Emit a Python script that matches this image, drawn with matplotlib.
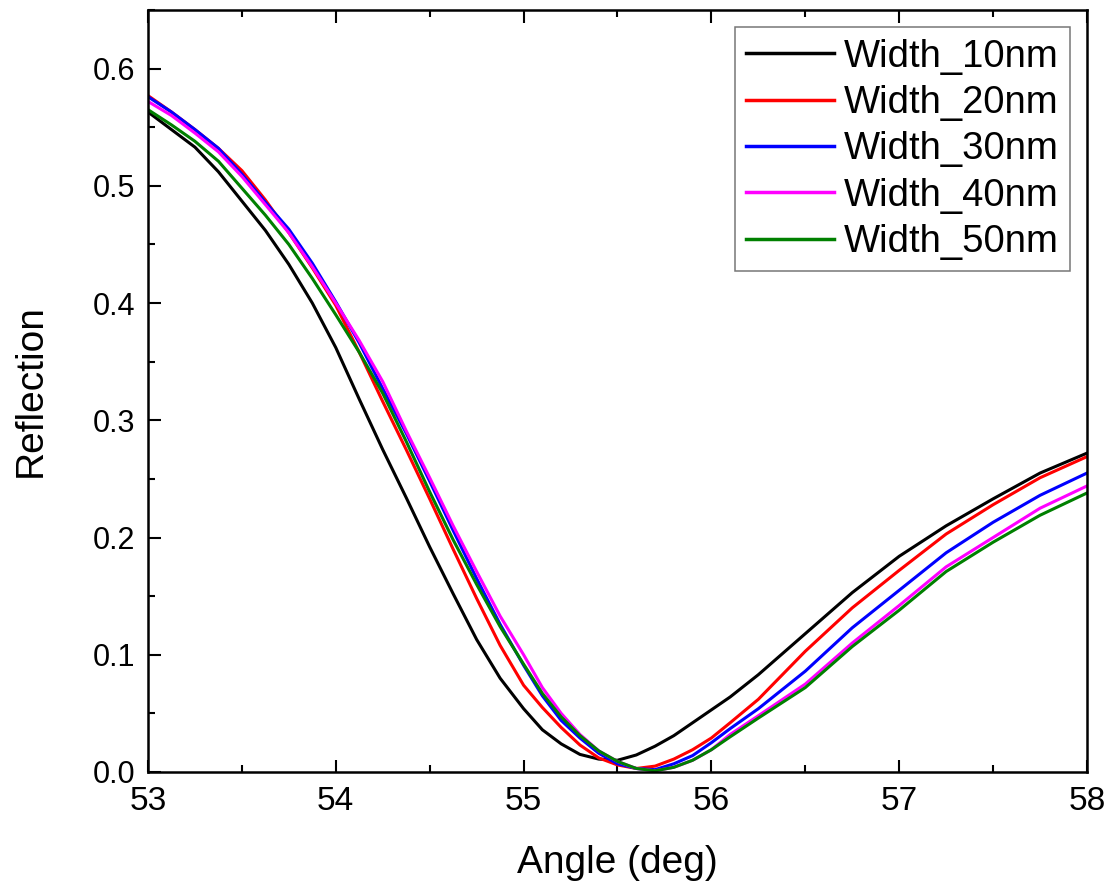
import numpy as np
import matplotlib
matplotlib.use("Agg")
import matplotlib.pyplot as plt
from matplotlib.ticker import MultipleLocator

# angle grid (deg) and reflection values
angle = [53.0, 53.125, 53.25, 53.375, 53.5, 53.625, 53.75, 53.875, 54.0, 54.125, 54.25,
         54.375, 54.5, 54.625, 54.75, 54.875, 55.0, 55.1, 55.2, 55.3, 55.4, 55.5, 55.6,
         55.7, 55.8, 55.9, 56.0, 56.1, 56.25, 56.5, 56.75, 57.0, 57.25, 57.5, 57.75, 58.0]
w10 = [0.563, 0.548, 0.533, 0.512, 0.487, 0.462, 0.433, 0.400, 0.362, 0.318, 0.275,
       0.234, 0.192, 0.152, 0.113, 0.080, 0.054, 0.036, 0.024, 0.015, 0.011, 0.010, 0.0145,
       0.022, 0.031, 0.042, 0.053, 0.064, 0.083, 0.118, 0.153, 0.184, 0.210, 0.233, 0.255, 0.272]
w20 = [0.577, 0.563, 0.548, 0.532, 0.513, 0.488, 0.460, 0.430, 0.398, 0.358, 0.316,
       0.275, 0.233, 0.190, 0.148, 0.108, 0.074, 0.055, 0.038, 0.023, 0.012, 0.006, 0.003,
       0.005, 0.011, 0.019, 0.029, 0.042, 0.062, 0.103, 0.140, 0.172, 0.203, 0.228, 0.251, 0.269]
w30 = [0.576, 0.563, 0.548, 0.532, 0.510, 0.486, 0.463, 0.434, 0.401, 0.366, 0.327,
       0.289, 0.248, 0.206, 0.165, 0.126, 0.091, 0.065, 0.044, 0.029, 0.016, 0.007, 0.003,
       0.002, 0.007, 0.014, 0.025, 0.037, 0.054, 0.086, 0.123, 0.155, 0.187, 0.213, 0.236, 0.255]
w40 = [0.572, 0.560, 0.545, 0.529, 0.508, 0.484, 0.460, 0.431, 0.400, 0.368, 0.333,
       0.291, 0.251, 0.210, 0.171, 0.133, 0.100, 0.072, 0.050, 0.032, 0.018, 0.009, 0.003,
       0.001, 0.004, 0.010, 0.019, 0.032, 0.048, 0.075, 0.110, 0.142, 0.175, 0.200, 0.225, 0.244]
w50 = [0.565, 0.552, 0.538, 0.521, 0.498, 0.475, 0.450, 0.421, 0.390, 0.358, 0.323,
       0.282, 0.239, 0.198, 0.160, 0.124, 0.092, 0.067, 0.047, 0.031, 0.018, 0.009, 0.003,
       0.001, 0.004, 0.010, 0.019, 0.030, 0.046, 0.072, 0.107, 0.138, 0.171, 0.196, 0.219, 0.238]

series = [w10, w20, w30, w40, w50]
labels = ['Width_10nm', 'Width_20nm', 'Width_30nm', 'Width_40nm', 'Width_50nm']
colors = ['#000000', '#ff0000', '#0000ff', '#ff00ff', '#008000']

FONT = ['Liberation Sans', 'DejaVu Sans']

fig = plt.figure(figsize=(11.11, 8.85), dpi=100)
ax = fig.add_axes([0.1332, 0.1277, 0.8452, 0.861])

for y, lab, c in zip(series, labels, colors):
    ax.plot(angle, y, color=c, lw=2.2, label=lab)

ax.set_xlim(53, 58)
ax.set_ylim(0, 0.65)
ax.xaxis.set_minor_locator(MultipleLocator(0.5))
ax.yaxis.set_minor_locator(MultipleLocator(0.05))
ax.tick_params(which='both', direction='in', top=True, right=False, width=1.5)
ax.tick_params(which='major', length=9)
ax.tick_params(which='minor', length=5)
for s in ax.spines.values():
    s.set_linewidth(1.8)

yt = np.arange(0, 0.61, 0.1)
ax.set_yticks(yt)
ax.set_yticklabels(['%.1f' % v for v in yt], family=FONT, fontsize=22)
ax.set_xticks(range(53, 59))
ax.set_xticklabels([str(v) for v in range(53, 59)], family=FONT, fontsize=24)
ax.tick_params(axis='x', pad=10)
ax.tick_params(axis='y', pad=9)

ax.set_xlabel('Angle (deg)', family=FONT, fontsize=28, labelpad=20)
ax.set_ylabel('Reflection', family=FONT, fontsize=28, labelpad=32)

leg = ax.legend(loc='upper right', prop={'family': FONT, 'size': 27.5}, frameon=True,
                fancybox=False, handlelength=2.3, handletextpad=0.25, labelspacing=0.27,
                borderpad=0.3, borderaxespad=0.45)
leg.get_frame().set_edgecolor('#555555')
leg.get_frame().set_linewidth(1.1)
for h in leg.get_lines():
    h.set_linewidth(2.5)

plt.savefig('out.png', dpi=100)
